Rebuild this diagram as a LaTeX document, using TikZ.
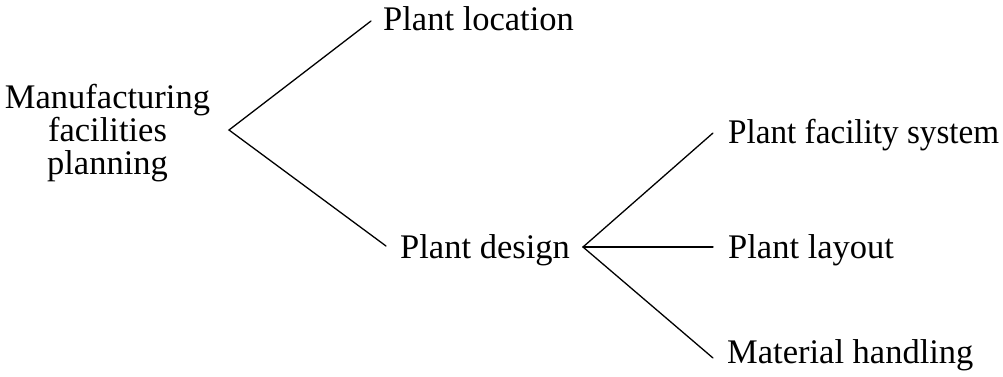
\documentclass[tikz,border=0pt]{standalone}
\usepackage{fontspec}
\usepackage{graphicx}
\setmainfont{Liberation Serif}
\begin{document}
\begin{tikzpicture}[x=1pt,y=1pt,
  lbl/.style={inner sep=0pt,font=\fontsize{34.5}{33}\selectfont},
  branch/.style={line width=1.3pt,line cap=round}]
\useasboundingbox (0,0) rectangle (1003,376);
\node[lbl,align=center,anchor=center] (root) at (107.5,{376-133}) {Manufacturing\\facilities\\planning};
\node[lbl,anchor=base west] (loc) at (383,{376-31}) {Plant location};
\node[lbl,anchor=base west] (des) at (400,{376-258}) {Plant design};
\node[lbl,anchor=base west] (fac) at (728,{376-143}) {\scalebox{0.962}[1]{Plant facility system}};
\node[lbl,anchor=base west] (lay) at (728,{376-258}) {Plant layout};
\node[lbl,anchor=base west] (mat) at (727,{376-363}) {Material handling};
\coordinate (a1) at (229,{376-130});
\coordinate (e1) at (371,{376-21});
\coordinate (e2) at (386,{376-246});
\coordinate (a2) at (583,{376-247});
\coordinate (e3) at (713,{376-133});
\coordinate (e4) at (713,{376-247});
\coordinate (e5) at (713,{376-358});
\draw[branch] (e1) -- (a1) -- (e2);
\draw[branch] (e3) -- (a2) -- (e5);
\draw[branch] (a2) -- (e4);
\end{tikzpicture}
\end{document}
